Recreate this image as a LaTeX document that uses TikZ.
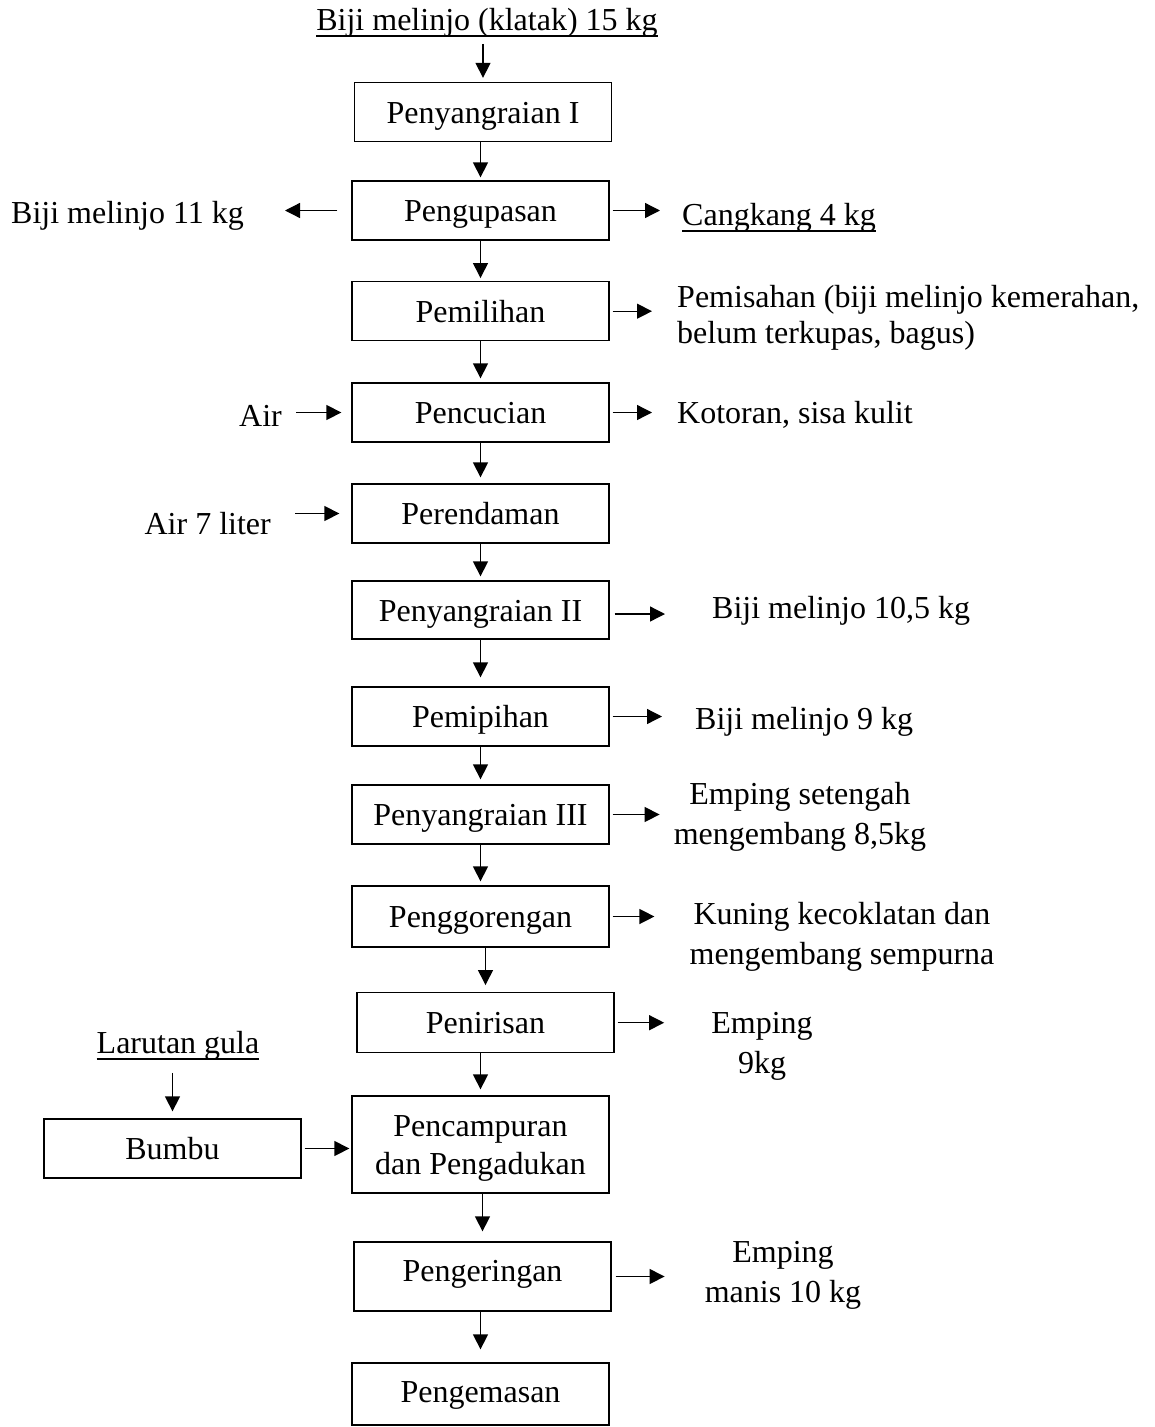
\documentclass[tikz,border=0pt]{standalone}
\usepackage{fontspec}
\setmainfont{Liberation Serif}
\usetikzlibrary{arrows.meta}
\newcommand{\ultext}[1]{\setbox0=\hbox{#1}\rlap{\rule[-6.5pt]{\wd0}{2.6pt}}\box0}

\begin{document}
\begin{tikzpicture}[x=1pt, y=-1pt,
  every node/.style={font=\fontsize{32}{40}\selectfont},
  procbox/.style={draw, line width=1.3pt, minimum width=257pt,
    minimum height=58pt, align=center, inner sep=2pt,
    text height=22pt, text depth=0pt},
  sidetext/.style={inner sep=0pt, align=center},
  flowar/.style={-{Triangle[length=15pt, width=15pt]}, line width=1.3pt},
]
\useasboundingbox (0,0) rectangle (1154,1427);

% ── Main process column ──────────────────────────────────────────────────────
\node[procbox, minimum height=59pt] (sangrai1) at (483,112) {Penyangraian I};
\node[procbox, minimum height=59pt] (kupas) at (480.5,210.5) {Pengupasan};
\node[procbox, minimum height=59pt] (pilih) at (480.5,311.2) {Pemilihan};
\node[procbox, minimum height=59pt] (cuci)  at (480.5,412.5) {Pencucian};
\node[procbox, minimum height=59pt] (rendam) at (480.5,513.5) {Perendaman};
\node[procbox] (sangrai2) at (480.5,610)  {Penyangraian II};
\node[procbox, minimum height=59pt] (pipih) at (480.5,716.5) {Pemipihan};
\node[procbox, minimum height=59pt] (sangrai3) at (480.5,814.5) {Penyangraian III};
\node[procbox, minimum height=61pt] (goreng) at (480.5,916.5) {Penggorengan};
\node[procbox, minimum height=60pt] (tiris) at (485.5,1022.7) {Penirisan};
\node[procbox, minimum height=97pt, font=\fontsize{32}{38}\selectfont,
  text height=59pt] (campur) at (480.5,1144.5) {Pencampuran\\dan Pengadukan};
\node[procbox, minimum height=69pt, text depth=13pt] (kering) at (482.5,1276.5) {Pengeringan};
\node[procbox, minimum height=62pt, text depth=6pt] (kemas) at (480.5,1394) {Pengemasan};

\foreach \a/\b/\g in {sangrai1/kupas/3, kupas/pilih/3, pilih/cuci/4,
    cuci/rendam/6, rendam/sangrai2/4, sangrai2/pipih/9, pipih/sangrai3/5,
    sangrai3/goreng/4, goreng/tiris/7, tiris/campur/6, campur/kering/10,
    kering/kemas/13}
  \draw[flowar, shorten >=\g pt] (\a.south -| \b.north) -- (\b.north);

% ── Raw material ─────────────────────────────────────────────────────────────
\node[sidetext] (bahan) at (487,23) {\ultext{Biji melinjo (klatak) 15 kg}};
\draw[flowar, shorten <=6pt, shorten >=4pt] (bahan.south -| sangrai1.north) -- (sangrai1.north);

% ── Left inputs / outputs ────────────────────────────────────────────────────
\node[sidetext, anchor=east] (biji11) at (244,216) {Biji melinjo 11 kg};
\draw[flowar, shorten <=14pt, shorten >=41pt] (kupas.west) -- (kupas.west -| biji11.east);

\node[sidetext, anchor=east] (air) at (282,416) {Air};
\draw[flowar, shorten <=14pt, shorten >=10pt] (air.east |- cuci.west) -- (cuci.west);

\node[sidetext, anchor=east] (air7) at (271,524) {Air 7 liter};
\draw[flowar, shorten <=24pt, shorten >=12pt] (air7.east |- rendam.west) -- (rendam.west);

\node[sidetext] (gula) at (178,1046) {\ultext{Larutan gula}};
\node[procbox, minimum height=59pt] (bumbu) at (172.5,1148.5) {Bumbu};
\draw[flowar, shorten <=12pt, shorten >=7pt] (bumbu.north |- gula.south) -- (bumbu.north);
\draw[flowar, shorten <=3pt, shorten >=2pt] (bumbu.east) -- (bumbu.east -| campur.west);

% ── Right outputs ────────────────────────────────────────────────────────────
\node[sidetext, anchor=west] (cangkang) at (682,218) {\ultext{Cangkang 4 kg}};
\draw[flowar, shorten <=3pt, shorten >=22pt] (kupas.east) -- (kupas.east -| cangkang.west);

\node[sidetext, anchor=west, align=left, font=\fontsize{32}{36}\selectfont]
  (pisah) at (677,318) {Pemisahan (biji melinjo kemerahan,\\belum terkupas, bagus)};
\draw[flowar, shorten <=3pt, shorten >=25pt] (pilih.east) -- (pilih.east -| pisah.west);

\node[sidetext, anchor=west] (kotor) at (677,415) {Kotoran, sisa kulit};
\draw[flowar, shorten <=3pt, shorten >=25pt] (cuci.east) -- (cuci.east -| kotor.west);

\node[sidetext, anchor=west] (biji105) at (712,611) {Biji melinjo 10,5 kg};
\draw[flowar, shorten <=5pt, shorten >=47pt] ([yshift=-4pt]sangrai2.east) -- ([yshift=-4pt]sangrai2.east -| biji105.west);

\node[sidetext, anchor=west] (biji9) at (695,722) {Biji melinjo 9 kg};
\draw[flowar, shorten <=3pt, shorten >=33pt] (pipih.east) -- (pipih.east -| biji9.west);

\node[sidetext] (setengah) at (800,817) {Emping setengah\\mengembang 8,5kg};
\draw[flowar, shorten <=3pt, shorten >=14pt] (sangrai3.east) -- (sangrai3.east -| setengah.west);

\node[sidetext] (kuning) at (842,937) {Kuning kecoklatan dan\\mengembang sempurna};
\draw[flowar, shorten <=3pt, shorten >=35pt] (goreng.east) -- (goreng.east -| kuning.west);

\node[sidetext] (emping9) at (762,1046) {Emping\\9kg};
\draw[flowar, shorten <=3pt, shorten >=47pt] (tiris.east) -- (tiris.east -| emping9.west);

\node[sidetext] (manis) at (783,1275) {Emping\\manis 10 kg};
\draw[flowar, shorten <=4pt, shorten >=40pt] (kering.east) -- (kering.east -| manis.west);

\end{tikzpicture}
\end{document}
